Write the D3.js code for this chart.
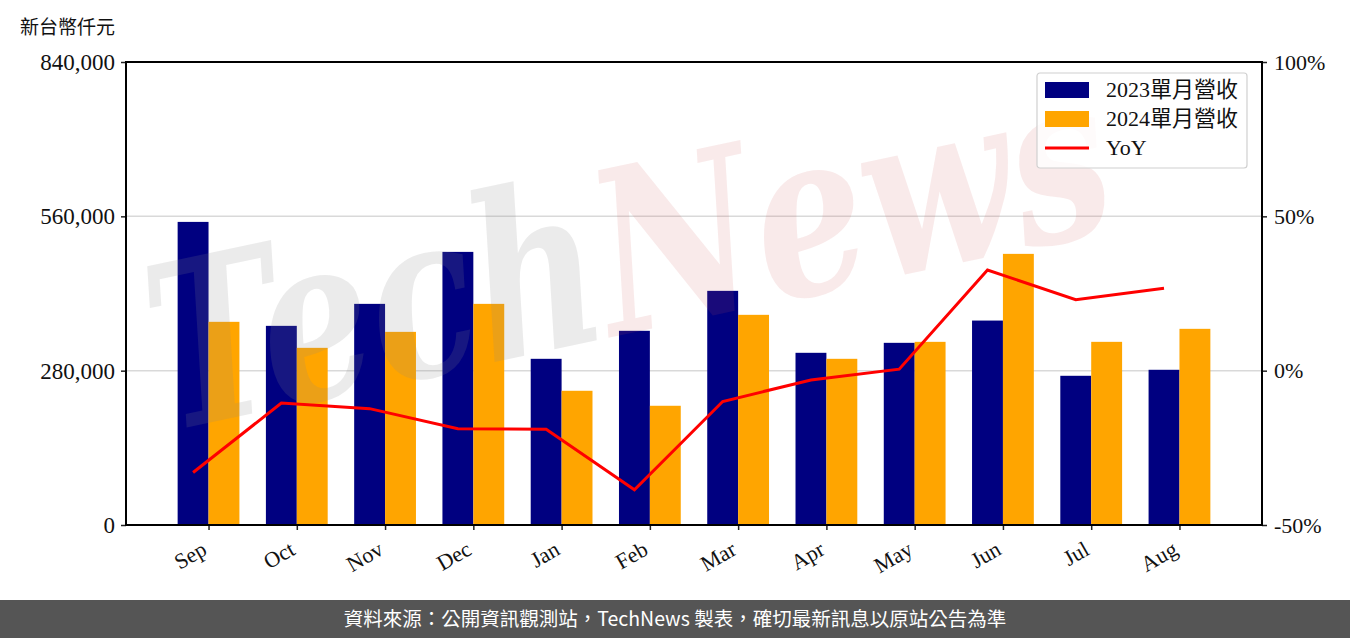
<!DOCTYPE html>
<html>
<head>
<meta charset="utf-8">
<script src="https://cdn.jsdelivr.net/npm/d3@7"></script>
<style>
  body { margin: 0; background: #fff; }
  svg { display: block; }
</style>
</head>
<body>
<svg id="chart" width="1350" height="638"></svg>
<script>
var months = ['Sep', 'Oct', 'Nov', 'Dec', 'Jan', 'Feb', 'Mar', 'Apr', 'May', 'Jun', 'Jul', 'Aug'];
var rev2023 = [549900, 361300, 401200, 495500, 301500, 352300, 424800, 312400, 330500, 370900, 270700, 281600];
var rev2024 = [368600, 321400, 350400, 401200, 243500, 216300, 381300, 301500, 332300, 491900, 332300, 355900];
var yoy = [-33.0, -10.5, -12.3, -18.8, -19.0, -38.6, -10.0, -3.0, 0.5, 32.6, 23.0, 26.7];
var leftTicks = [0, 280000, 560000, 840000];
var rightTicks = [-50, 0, 50, 100];
var legendNames = ['2023單月營收', '2024單月營收', 'YoY'];

var W = 1350, H = 638;
var m = { left: 126, right: 1262, top: 62, bottom: 525 };
var barW = 0.35;
var serif = '"Liberation Serif", "Noto Sans CJK TC", serif';

var svg = d3.select('#chart');

var x = d3.scaleLinear().domain([-0.935, 11.935]).range([m.left, m.right]);
var y = d3.scaleLinear().domain([0, 840000]).range([m.bottom, m.top]);
var y2 = d3.scaleLinear().domain([-50, 100]).range([m.bottom, m.top]);

// grid
svg.append('g')
  .selectAll('line')
  .data([280000, 560000])
  .join('line')
  .attr('x1', m.left).attr('x2', m.right)
  .attr('y1', function(d) { return y(d) }).attr('y2', function(d) { return y(d) })
  .attr('stroke', '#d9d9d9').attr('stroke-width', 1.5);

// bars
var bars = svg.append('g');
bars.selectAll('rect.b23')
  .data(rev2023)
  .join('rect')
  .attr('class', 'b23')
  .attr('x', function(d, i) { return x(i - barW) })
  .attr('width', function(d, i) { return x(i) - x(i - barW) })
  .attr('y', function(d) { return y(d) })
  .attr('height', function(d) { return y(0) - y(d) })
  .attr('fill', '#000080');
bars.selectAll('rect.b24')
  .data(rev2024)
  .join('rect')
  .attr('class', 'b24')
  .attr('x', function(d, i) { return x(i) })
  .attr('width', function(d, i) { return x(i + barW) - x(i) })
  .attr('y', function(d) { return y(d) })
  .attr('height', function(d) { return y(0) - y(d) })
  .attr('fill', '#FFA500');

// yoy line sits on the 2023 bar centres
var line = d3.line()
  .x(function(d, i) { return x(i - barW / 2) })
  .y(function(d) { return y2(d) });
svg.append('path')
  .datum(yoy)
  .attr('d', line)
  .attr('fill', 'none')
  .attr('stroke', '#FF0000')
  .attr('stroke-width', 3);

// watermark
var wm = svg.append('text')
  .attr('transform', 'translate(645,330) rotate(-12) scale(1,1.3)')
  .attr('text-anchor', 'middle')
  .attr('font-family', '"DejaVu Serif", serif')
  .attr('font-style', 'italic')
  .attr('font-size', 175)
  .attr('font-weight', 'bold');
wm.append('tspan').text('Tech').attr('fill', '#8a8a8a').attr('fill-opacity', 0.17);
wm.append('tspan').text('News').attr('fill', '#d05050').attr('fill-opacity', 0.12);

// axes
var xAxis = d3.axisBottom(x).tickValues(d3.range(12)).tickFormat(function(d) { return months[d] })
  .tickSize(5).tickPadding(8);
var gx = svg.append('g').attr('transform', 'translate(0,' + m.bottom + ')').call(xAxis);
gx.selectAll('text')
  .attr('font-family', serif).attr('font-size', 22).attr('fill', '#111')
  .attr('text-anchor', 'end')
  .attr('dy', '0.7em')
  .attr('transform', 'translate(-15,4) rotate(-30)');

var gl = svg.append('g').attr('transform', 'translate(' + m.left + ',0)')
  .call(d3.axisLeft(y).tickValues(leftTicks).tickFormat(d3.format(',')).tickSize(5).tickPadding(6));
gl.selectAll('text').attr('font-family', serif).attr('font-size', 23).attr('fill', '#111');

var gr = svg.append('g').attr('transform', 'translate(' + m.right + ',0)')
  .call(d3.axisRight(y2).tickValues(rightTicks).tickFormat(function(d) { return d + '%' }).tickSize(5).tickPadding(7));
gr.selectAll('text').attr('font-family', serif).attr('font-size', 22).attr('fill', '#111');

[gx, gl, gr].forEach(function(g) {
  g.select('.domain').remove();
  g.selectAll('line').attr('stroke', '#222').attr('stroke-width', 1.5);
});

// frame
svg.append('rect')
  .attr('x', m.left).attr('y', m.top)
  .attr('width', m.right - m.left).attr('height', m.bottom - m.top)
  .attr('fill', 'none').attr('stroke', '#000').attr('stroke-width', 2);

svg.append('text')
  .attr('x', 20).attr('y', 34)
  .attr('font-family', '"Noto Sans CJK TC", sans-serif')
  .attr('font-size', 19).attr('fill', '#111')
  .text('新台幣仟元');

// legend
var lg = svg.append('g').attr('transform', 'translate(1037,73)');
lg.append('rect')
  .attr('width', 210).attr('height', 95).attr('rx', 3)
  .attr('fill', '#fff').attr('fill-opacity', 0.8)
  .attr('stroke', '#d0d0d0').attr('stroke-width', 1.2);
var colors = ['#000080', '#FFA500', '#FF0000'];
legendNames.forEach(function(name, i) {
  var cy = 16 + i * 29;
  if (i < 2) {
    lg.append('rect').attr('x', 8).attr('y', cy - 7).attr('width', 44).attr('height', 16).attr('fill', colors[i]);
  } else {
    lg.append('line').attr('x1', 8).attr('x2', 52).attr('y1', cy + 1).attr('y2', cy + 1)
      .attr('stroke', colors[i]).attr('stroke-width', 3);
  }
  lg.append('text')
    .attr('x', 69).attr('y', cy + 8)
    .attr('font-family', serif).attr('font-size', 22).attr('fill', '#111')
    .text(name);
});

// footer
svg.append('rect').attr('x', 0).attr('y', 600).attr('width', W).attr('height', H - 600).attr('fill', '#555555');
svg.append('text')
  .attr('x', W / 2).attr('y', 626)
  .attr('text-anchor', 'middle')
  .attr('font-family', '"Noto Sans CJK TC", "Noto Sans", sans-serif')
  .attr('font-size', 19.5).attr('fill', '#fff')
  .text('資料來源：公開資訊觀測站，TechNews 製表，確切最新訊息以原站公告為準');
</script>
</body>
</html>
